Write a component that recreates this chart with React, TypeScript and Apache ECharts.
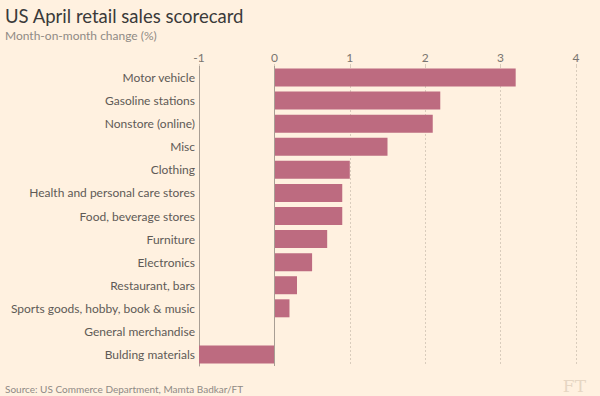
import React, { useEffect, useRef } from "react";
import * as echarts from "echarts";

const categories = [
  "Motor vehicle",
  "Gasoline stations",
  "Nonstore (online)",
  "Misc",
  "Clothing",
  "Health and personal care stores",
  "Food, beverage stores",
  "Furniture",
  "Electronics",
  "Restaurant, bars",
  "Sports goods, hobby, book & music",
  "General merchandise",
  "Bulding materials",
];
const values = [3.2, 2.2, 2.1, 1.5, 1.0, 0.9, 0.9, 0.7, 0.5, 0.3, 0.2, 0, -1.0];

const titleText = "US April retail sales scorecard";
const subtitleText = "Month-on-month change (%)";
const sourceText = "Source: US Commerce Department, Mamta Badkar/FT";

const FONT = "Lato, 'Open Sans', sans-serif";

export default function App() {
  const ref = useRef<HTMLDivElement>(null);
  useEffect(() => {
    document.body.style.margin = "0";
    const chart = echarts.init(ref.current!, null, { renderer: "svg" });
    chart.setOption({
      animation: false,
      backgroundColor: "#fff1e0",
      textStyle: { fontFamily: FONT },
      title: [
        {
          text: titleText,
          left: 0,
          top: 1,
          textStyle: { fontFamily: FONT, fontSize: 18.5, fontWeight: "normal", color: "#3a3a3a" },
        },
        {
          text: subtitleText,
          left: 0,
          top: 24,
          textStyle: { fontFamily: FONT, fontSize: 12, fontWeight: "normal", color: "#8f8a85" },
        },
        {
          text: sourceText,
          left: 0,
          top: 379,
          textStyle: { fontFamily: FONT, fontSize: 10, fontWeight: "normal", color: "#8f8a85" },
        },
        {
          text: "FT",
          right: 9,
          top: 372,
          textStyle: { fontFamily: "'DejaVu Serif', serif", fontSize: 17, fontWeight: "normal", color: "#e6d6c3" },
        },
      ],
      grid: { left: 199, right: 24, top: 66, bottom: 30, containLabel: false },
      xAxis: {
        type: "value",
        position: "top",
        min: -1,
        max: 4,
        interval: 1,
        axisLine: { show: false },
        axisTick: { show: true, length: 6, lineStyle: { color: "#d9ccbc", type: [2, 2] } },
        axisLabel: { color: "#7a7570", fontSize: 12, fontFamily: FONT, margin: 3 },
        splitLine: { show: true, lineStyle: { color: "#d9ccbc", type: [2, 2], width: 1 } },
      },
      yAxis: {
        type: "category",
        data: categories,
        inverse: true,
        axisLine: { show: true, onZero: false, lineStyle: { color: "#a89e94", width: 1 } },
        axisTick: { show: false },
        axisLabel: { color: "#5e5a56", fontSize: 12, fontFamily: FONT, margin: 4 },
        splitLine: { show: false },
      },
      series: [
        {
          type: "bar",
          data: values,
          barCategoryGap: "22%",
          itemStyle: { color: "#bd6b80" },
          markLine: {
            silent: true,
            symbol: "none",
            label: { show: false },
            lineStyle: { color: "#a89e94", type: "solid", width: 1 },
            data: [{ xAxis: 0 }],
          },
        },
      ],
    });
    return () => chart.dispose();
  }, []);
  return <div ref={ref} style={{ width: 600, height: 396 }} />;
}
